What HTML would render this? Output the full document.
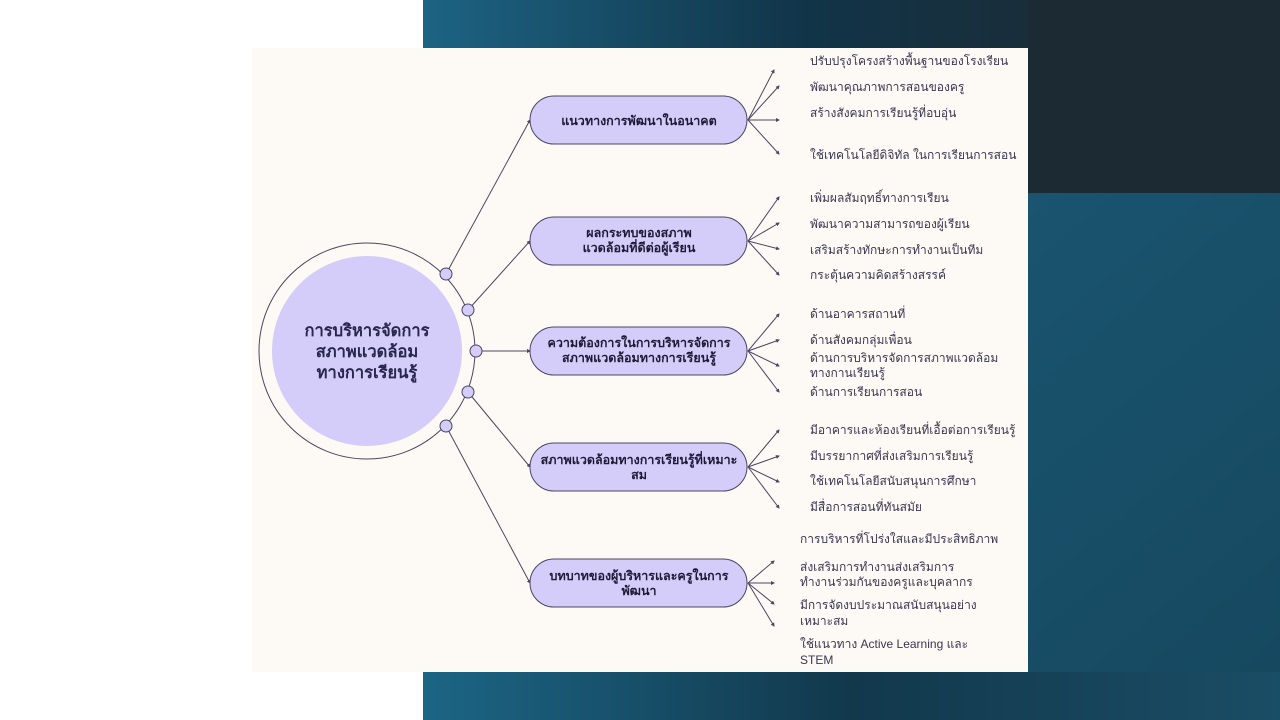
<!DOCTYPE html>
<html><head><meta charset="utf-8"><style>
html,body{margin:0;padding:0;width:1280px;height:720px;overflow:hidden;background:#fff}
svg{display:block}
text{font-family:"Liberation Sans","DejaVu Sans",sans-serif;fill:#2e2a45}
.b{font-weight:bold;font-size:12.5px;fill:#1e1a35}
.l{font-size:12px;fill:#3a3650}
</style></head><body>
<svg width="1280" height="720" viewBox="0 0 1280 720">
<defs>
<linearGradient id="bg" x1="0" y1="0" x2="1" y2="0">
<stop offset="0" stop-color="#1d6383"/><stop offset="0.45" stop-color="#113448"/><stop offset="1" stop-color="#22262b"/>
</linearGradient>
<linearGradient id="bg2" x1="0" y1="0" x2="1" y2="1">
<stop offset="0" stop-color="#1d5f7e"/><stop offset="1" stop-color="#16485f"/>
</linearGradient>
<linearGradient id="bg3" x1="0" y1="0" x2="1" y2="0">
<stop offset="0" stop-color="#1c6585"/><stop offset="0.5" stop-color="#12384c"/><stop offset="1" stop-color="#1a4d66"/>
</linearGradient>
<marker id="a" markerWidth="4" markerHeight="4" refX="3" refY="2" orient="auto"><path d="M0,0L4,2L0,4z" fill="#4a4560"/></marker>
</defs>
<rect x="423" y="0" width="857" height="720" fill="url(#bg2)"/>
<rect x="423" y="0" width="857" height="48" fill="url(#bg)"/>
<rect x="1028" y="0" width="252" height="193" fill="#1c2a33"/>
<rect x="423" y="672" width="857" height="48" fill="url(#bg3)"/>
<rect x="252" y="48" width="776" height="624" fill="#fdfaf5"/>

<g stroke="#4a4560" stroke-width="1" fill="none">
<circle cx="367" cy="351" r="108"/>
<line x1="446" y1="274" x2="530" y2="120" marker-end="url(#a)"/>
<line x1="468" y1="310" x2="530" y2="241" marker-end="url(#a)"/>
<line x1="476" y1="351" x2="530" y2="351" marker-end="url(#a)"/>
<line x1="468" y1="392" x2="530" y2="467" marker-end="url(#a)"/>
<line x1="446" y1="426" x2="530" y2="583" marker-end="url(#a)"/>
<g marker-end="url(#a)">
<line x1="748" y1="120" x2="774" y2="70"/><line x1="748" y1="120" x2="779" y2="86"/><line x1="748" y1="120" x2="779" y2="120"/><line x1="748" y1="120" x2="779" y2="154"/>
<line x1="748" y1="241" x2="779" y2="197"/><line x1="748" y1="241" x2="779" y2="223"/><line x1="748" y1="241" x2="779" y2="249"/><line x1="748" y1="241" x2="779" y2="275"/>
<line x1="748" y1="351" x2="779" y2="314"/><line x1="748" y1="351" x2="779" y2="340"/><line x1="748" y1="351" x2="779" y2="366"/><line x1="748" y1="351" x2="779" y2="392"/>
<line x1="748" y1="467" x2="779" y2="430"/><line x1="748" y1="467" x2="779" y2="456"/><line x1="748" y1="467" x2="779" y2="482"/><line x1="748" y1="467" x2="779" y2="508"/>
<line x1="748" y1="583" x2="774" y2="561"/><line x1="748" y1="583" x2="774" y2="583"/><line x1="748" y1="583" x2="774" y2="604"/><line x1="748" y1="583" x2="774" y2="626"/>
</g>
</g>
<circle cx="367" cy="351" r="95" fill="#d4cdfa"/>
<g fill="#d4cdfa" stroke="#4a4560" stroke-width="1">
<circle cx="446" cy="274" r="6"/><circle cx="468" cy="310" r="6"/><circle cx="476" cy="351" r="6"/><circle cx="468" cy="392" r="6"/><circle cx="446" cy="426" r="6"/>
<rect x="530" y="96" width="217" height="48" rx="24"/>
<rect x="530" y="217" width="217" height="48" rx="24"/>
<rect x="530" y="327" width="217" height="48" rx="24"/>
<rect x="530" y="443" width="217" height="48" rx="24"/>
<rect x="530" y="559" width="217" height="48" rx="24"/>
</g>
<g text-anchor="middle" font-weight="bold">
<text x="367" y="336" style="font-size:16.5px;fill:#2b2650">การบริหารจัดการ</text>
<text x="367" y="357" style="font-size:16.5px;fill:#2b2650">สภาพแวดล้อม</text>
<text x="367" y="378" style="font-size:16.5px;fill:#2b2650">ทางการเรียนรู้</text>
<text class="b" x="639" y="125">แนวทางการพัฒนาในอนาคต</text>
<text class="b" x="639" y="237">ผลกระทบของสภาพ</text>
<text class="b" x="639" y="252">แวดล้อมที่ดีต่อผู้เรียน</text>
<text class="b" x="639" y="347">ความต้องการในการบริหารจัดการ</text>
<text class="b" x="639" y="362">สภาพแวดล้อมทางการเรียนรู้</text>
<text class="b" x="639" y="464">สภาพแวดล้อมทางการเรียนรู้ที่เหมาะ</text>
<text class="b" x="639" y="479">สม</text>
<text class="b" x="639" y="580">บทบาทของผู้บริหารและครูในการ</text>
<text class="b" x="639" y="595">พัฒนา</text>
</g>
<g>
<text class="l" x="810" y="65">ปรับปรุงโครงสร้างพื้นฐานของโรงเรียน</text>
<text class="l" x="810" y="91">พัฒนาคุณภาพการสอนของครู</text>
<text class="l" x="810" y="117">สร้างสังคมการเรียนรู้ที่อบอุ่น</text>
<text class="l" x="810" y="159">ใช้เทคโนโลยีดิจิทัล ในการเรียนการสอน</text>
<text class="l" x="810" y="202">เพิ่มผลสัมฤทธิ์ทางการเรียน</text>
<text class="l" x="810" y="228">พัฒนาความสามารถของผู้เรียน</text>
<text class="l" x="810" y="254">เสริมสร้างทักษะการทำงานเป็นทีม</text>
<text class="l" x="810" y="279">กระตุ้นความคิดสร้างสรรค์</text>
<text class="l" x="810" y="318">ด้านอาคารสถานที่</text>
<text class="l" x="810" y="344">ด้านสังคมกลุ่มเพื่อน</text>
<text class="l" x="810" y="362">ด้านการบริหารจัดการสภาพแวดล้อม</text>
<text class="l" x="810" y="377">ทางกานเรียนรู้</text>
<text class="l" x="810" y="396">ด้านการเรียนการสอน</text>
<text class="l" x="810" y="434">มีอาคารและห้องเรียนที่เอื้อต่อการเรียนรู้</text>
<text class="l" x="810" y="460">มีบรรยากาศที่ส่งเสริมการเรียนรู้</text>
<text class="l" x="810" y="485">ใช้เทคโนโลยีสนับสนุนการศึกษา</text>
<text class="l" x="810" y="511">มีสื่อการสอนที่ทันสมัย</text>
<text class="l" x="800" y="543">การบริหารที่โปร่งใสและมีประสิทธิภาพ</text>
<text class="l" x="800" y="571">ส่งเสริมการทำงานส่งเสริมการ</text>
<text class="l" x="800" y="586">ทำงานร่วมกันของครูและบุคลากร</text>
<text class="l" x="800" y="609">มีการจัดงบประมาณสนับสนุนอย่าง</text>
<text class="l" x="800" y="625">เหมาะสม</text>
<text class="l" x="800" y="648">ใช้แนวทาง Active Learning และ</text>
<text class="l" x="800" y="664">STEM</text>
</g>
</svg>
</body></html>
